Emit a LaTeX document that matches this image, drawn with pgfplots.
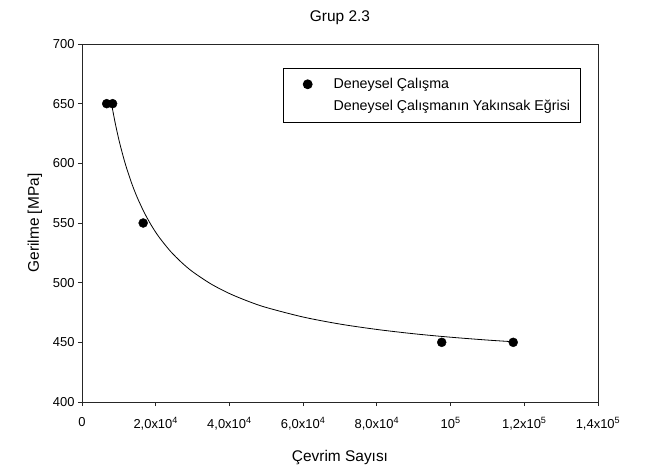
\documentclass[border=0pt]{standalone}
\usepackage{fontspec}
\setmainfont{Liberation Sans}
\usepackage{pgfplots}
\pgfplotsset{compat=1.18}
\begin{document}
\begin{tikzpicture}
\path[use as bounding box] (-82bp,-67bp) rectangle (563bp,402bp);
\begin{axis}[
  at={(0,0)}, anchor=south west, scale only axis,
  width=516bp, height=358bp,
  xmin=0, xmax=140000, ymin=400, ymax=700,
  xtick={0,20000,40000,60000,80000,100000,120000,140000},
  xticklabels={0,{2,0x10\textsuperscript{4}},{4,0x10\textsuperscript{4}},{6,0x10\textsuperscript{4}},{8,0x10\textsuperscript{4}},{10\textsuperscript{5}},{1,2x10\textsuperscript{5}},{1,4x10\textsuperscript{5}}},
  ytick={400,450,500,550,600,650,700},
  yticklabels={400,450,500,550,600,650,700},
  scaled x ticks=false,
  tick align=outside,
  xtick pos=bottom, ytick pos=left,
  major tick length=4bp,
  axis line style={line width=0.8bp, black!85},
  tick style={line width=0.8bp, black!85},
  ticklabel style={font=\fontsize{13}{15}\selectfont},
  xticklabel style={yshift=-8bp},
  title={Grup 2.3},
  every axis title/.style={at={([yshift=22bp]axis description cs:0.5,1)}, anchor=base, font=\fontsize{15.5}{18}\selectfont},
  xlabel={Çevrim Sayısı},
  every axis x label/.style={at={([yshift=-59bp]axis description cs:0.5,0)}, anchor=base, font=\fontsize{15.5}{18}\selectfont},
  ylabel={Gerilme [MPa]},
  every axis y label/.style={at={([xshift=-43bp]axis description cs:0,0.5)}, rotate=90, anchor=base, font=\fontsize{15.5}{18}\selectfont},
  legend style={at={(0.967,0.933)}, anchor=north east, draw=black, line width=0.8bp,
    font=\fontsize{14.3}{16.5}\selectfont, row sep=6bp, inner xsep=8.5bp, inner ysep=8bp},
  legend cell align=left,
]
\addplot[only marks, mark=*, mark size=4.5bp, black, forget plot] coordinates {
  (6700,650) (8300,650) (16600,550) (97600,450) (117000,450)
};
\addplot[black, line width=0.8bp, smooth, forget plot] coordinates {
  (8000,650) (9000,633.9) (10000,619.9) (11000,607.8) (12000,597.0)
  (13500,583.1) (15000,571.3) (17000,558.1) (19000,547.1) (21000,537.8)
  (24000,526.3) (27000,517.0) (30000,509.2) (35000,498.9) (40000,490.9)
  (45000,484.5) (50000,479.2) (60000,471.2) (70000,465.3) (80000,460.8)
  (90000,457.2) (100000,454.3) (110000,451.9) (117000,450.5)
};
\addlegendimage{legend image code/.code={\path (-15.5bp,0) (23.5bp,0); \fill[black] (0,0) circle (4.5bp);}}
\addlegendentry{Deneysel Çalışma}
\addlegendimage{legend image code/.code={\path (-15.5bp,0) (23.5bp,0);}}
\addlegendentry{Deneysel Çalışmanın Yakınsak Eğrisi}
\end{axis}
\end{tikzpicture}
\end{document}
